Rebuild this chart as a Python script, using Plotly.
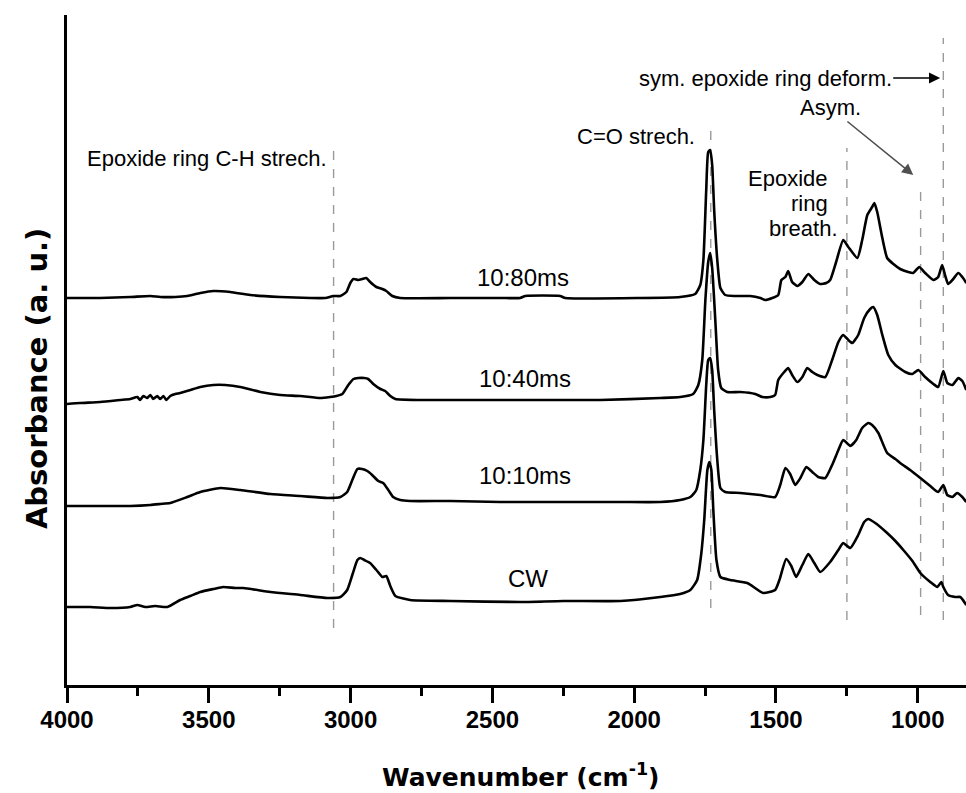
import plotly.graph_objects as go

# ---------------- data (wavenumber cm^-1, absorbance a.u., offset traces) ----------------
wn_80 = [4000, 3883, 3777, 3706, 3671, 3618, 3576, 3530, 3484, 3424, 3354, 3248, 3142, 3089, 3061, 3036,
         3015, 3001, 2990, 2973, 2959, 2945, 2931, 2909, 2888, 2874, 2853, 2825, 2648, 2472, 2402, 2384,
         2261, 2243, 1979, 1838, 1785, 1767, 1756, 1746, 1739, 1732, 1725, 1718, 1707, 1696, 1679, 1644,
         1591, 1555, 1538, 1513, 1492, 1481, 1467, 1457, 1443, 1425, 1407, 1386, 1365, 1344, 1323, 1309,
         1288, 1263, 1245, 1213, 1196, 1178, 1161, 1153, 1143, 1125, 1108, 1086, 1062, 1034, 1016, 995,
         974, 945, 928, 914, 903, 893, 878, 857, 843, 829]
ab_80 = [3.87, 3.87, 3.88, 3.89, 3.88, 3.88, 3.89, 3.92, 3.94, 3.93, 3.90, 3.88, 3.87, 3.87, 3.89, 3.89,
         3.93, 4.02, 4.06, 4.05, 4.06, 4.07, 4.03, 3.98, 3.96, 3.94, 3.89, 3.87, 3.87, 3.87, 3.87, 3.89,
         3.89, 3.87, 3.87, 3.88, 3.91, 4.00, 4.25, 4.95, 5.33, 5.35, 5.20, 4.75, 4.25, 3.97, 3.90, 3.89,
         3.89, 3.87, 3.85, 3.87, 3.90, 4.05, 4.08, 4.14, 4.03, 3.99, 4.03, 4.11, 4.05, 4.01, 4.02, 4.05,
         4.23, 4.45, 4.38, 4.27, 4.45, 4.70, 4.78, 4.82, 4.73, 4.47, 4.27, 4.21, 4.16, 4.13, 4.12, 4.18,
         4.12, 4.05, 4.08, 4.20, 4.09, 4.01, 4.05, 4.12, 4.08, 4.02]

wn_40 = [4000, 3953, 3883, 3812, 3777, 3752, 3742, 3731, 3717, 3706, 3696, 3682, 3671, 3660, 3650, 3636,
         3618, 3601, 3565, 3530, 3484, 3442, 3389, 3318, 3248, 3177, 3107, 3072, 3050, 3029, 3008, 2990,
         2973, 2952, 2938, 2920, 2895, 2878, 2860, 2842, 2754, 2472, 2261, 2120, 1908, 1838, 1792, 1774,
         1760, 1749, 1739, 1732, 1725, 1714, 1704, 1693, 1672, 1626, 1573, 1548, 1520, 1503, 1492, 1471,
         1457, 1443, 1425, 1407, 1390, 1372, 1354, 1326, 1302, 1280, 1263, 1245, 1231, 1210, 1189, 1168,
         1157, 1143, 1125, 1104, 1079, 1044, 1019, 998, 974, 945, 928, 910, 896, 878, 857, 843, 829]
ab_40 = [2.81, 2.82, 2.83, 2.85, 2.86, 2.88, 2.85, 2.89, 2.87, 2.90, 2.86, 2.89, 2.86, 2.89, 2.85, 2.89,
         2.91, 2.92, 2.95, 2.98, 3.00, 3.00, 2.98, 2.93, 2.90, 2.89, 2.87, 2.88, 2.89, 2.91, 3.00, 3.06,
         3.07, 3.07, 3.06, 3.01, 2.96, 2.94, 2.89, 2.86, 2.85, 2.85, 2.85, 2.85, 2.87, 2.88, 2.91, 3.00,
         3.25, 3.85, 4.23, 4.32, 4.17, 3.65, 3.15, 2.97, 2.93, 2.93, 2.91, 2.88, 2.88, 2.90, 3.05, 3.13,
         3.17, 3.10, 3.03, 3.08, 3.17, 3.13, 3.10, 3.08, 3.25, 3.43, 3.50, 3.45, 3.42, 3.50, 3.67, 3.76,
         3.78, 3.70, 3.50, 3.30, 3.20, 3.13, 3.11, 3.15, 3.08, 3.01, 2.98, 3.14, 3.02, 3.00, 3.07, 3.04, 2.95]

wn_10 = [4000, 3883, 3777, 3706, 3671, 3636, 3576, 3530, 3459, 3389, 3283, 3177, 3082, 3036, 3012, 2994,
         2976, 2959, 2941, 2924, 2902, 2885, 2867, 2850, 2825, 2790, 2648, 2472, 2261, 2049, 1908, 1838,
         1802, 1781, 1767, 1756, 1746, 1739, 1732, 1725, 1718, 1707, 1696, 1679, 1626, 1555, 1503, 1485,
         1467, 1450, 1432, 1414, 1393, 1372, 1351, 1326, 1302, 1280, 1263, 1238, 1217, 1196, 1175, 1161,
         1139, 1108, 1079, 1062, 1027, 991, 956, 928, 910, 896, 878, 861, 843, 829]
ab_10 = [1.79, 1.79, 1.79, 1.80, 1.81, 1.82, 1.88, 1.93, 1.97, 1.95, 1.91, 1.89, 1.87, 1.88, 1.93, 2.05,
         2.16, 2.16, 2.14, 2.10, 2.04, 2.02, 1.95, 1.88, 1.85, 1.84, 1.84, 1.83, 1.83, 1.83, 1.83, 1.85,
         1.88, 1.95, 2.15, 2.45, 3.00, 3.25, 3.27, 3.15, 2.75, 2.25, 1.97, 1.93, 1.92, 1.90, 1.88, 2.00,
         2.17, 2.11, 2.00, 2.07, 2.18, 2.13, 2.08, 2.07, 2.20, 2.35, 2.45, 2.39, 2.45, 2.57, 2.62, 2.60,
         2.52, 2.32, 2.26, 2.22, 2.15, 2.07, 1.99, 1.93, 2.00, 1.90, 1.88, 1.92, 1.88, 1.83]

wn_cw = [4000, 3918, 3847, 3777, 3752, 3724, 3689, 3646, 3601, 3565, 3530, 3484, 3449, 3407, 3378, 3283,
         3177, 3082, 3036, 3012, 2994, 2976, 2966, 2952, 2931, 2909, 2888, 2874, 2860, 2842, 2790, 2648,
         2402, 2250, 2049, 1908, 1838, 1802, 1778, 1764, 1753, 1742, 1735, 1728, 1721, 1710, 1696, 1661,
         1601, 1545, 1503, 1488, 1464, 1446, 1429, 1407, 1386, 1365, 1344, 1309, 1280, 1263, 1238, 1210,
         1189, 1175, 1150, 1108, 1079, 1051, 1019, 991, 956, 931, 917, 910, 893, 868, 850, 829]
ab_cw = [0.78, 0.78, 0.77, 0.78, 0.80, 0.78, 0.79, 0.78, 0.85, 0.89, 0.93, 0.96, 0.98, 0.97, 0.97, 0.93,
         0.90, 0.87, 0.88, 0.95, 1.10, 1.25, 1.27, 1.25, 1.22, 1.15, 1.08, 1.09, 0.99, 0.89, 0.85, 0.84,
         0.83, 0.84, 0.84, 0.88, 0.91, 0.95, 1.05, 1.30, 1.65, 2.15, 2.23, 2.15, 1.75, 1.25, 1.08, 1.05,
         1.02, 0.92, 0.95, 1.05, 1.26, 1.19, 1.08, 1.20, 1.31, 1.22, 1.13, 1.23, 1.35, 1.42, 1.37, 1.50,
         1.63, 1.66, 1.62, 1.52, 1.44, 1.35, 1.24, 1.12, 1.03, 0.98, 1.03, 0.98, 0.90, 0.88, 0.88, 0.80]

series_names = ["10:80ms", "10:40ms", "10:10ms", "CW"]
series_wn = [wn_80, wn_40, wn_10, wn_cw]
series_ab = [ab_80, ab_40, ab_10, ab_cw]
label_wn = [2391, 2384, 2384, 2374]
label_ab = [4.08, 3.07, 2.10, 1.07]

band_wn = [3060, 1730, 1250, 990, 910]
band_top = [5.37, 5.60, 5.37, 4.98, 6.47]
band_bottom = [0.57, 0.77, 0.65, 0.70, 0.65]

tick_vals = [4000, 3500, 3000, 2500, 2000, 1500, 1000]
tick_text = ["4000", "3500", "3000", "2500", "2000", "1500", "1000"]
minor_vals = [3750, 3250, 2750, 2250, 1750, 1250]

# ---------------- figure ----------------
fig = go.Figure()
for name, x, y in zip(series_names, series_wn, series_ab):
    fig.add_trace(go.Scatter(x=x, y=y, mode="lines", name=name,
                             line=dict(color="black", width=2.6, shape="spline", smoothing=0.5),
                             showlegend=False))

for xb, yt, yb in zip(band_wn, band_top, band_bottom):
    fig.add_shape(type="line", x0=xb, x1=xb, y0=yb, y1=yt, xref="x", yref="y",
                  line=dict(color="#9a9a9a", width=1.4, dash="dash"), layer="below")

ann_font = dict(family="Liberation Sans, Arial", size=22, color="black")
lab_font = dict(family="Liberation Sans, Arial", size=24, color="black")

for name, x, y in zip(series_names, label_wn, label_ab):
    fig.add_annotation(x=x, y=y, text=name, showarrow=False, font=lab_font,
                       xanchor="center", yanchor="middle")

texts = [
    ("Epoxide ring C-H strech.", 3935, 5.265, "left"),
    ("C=O strech.", 1778, 5.49, "right"),
    ("Epoxide", 1309, 5.065, "right"),
    ("ring", 1309, 4.815, "right"),
    ("breath.", 1273, 4.565, "right"),
]
for t, x, y, anc in texts:
    fig.add_annotation(x=x, y=y, text=t, showarrow=False, font=ann_font,
                       xanchor=anc, yanchor="middle")

# labels with arrows: text sits at (ax, ay), arrow head at (x, y)
fig.add_annotation(x=921, y=6.07, ax=1538, ay=6.07, xref="x", yref="y", axref="x", ayref="y",
                   text="sym. epoxide ring deform.", font=ann_font,
                   showarrow=True, arrowhead=2, arrowsize=1.4, arrowwidth=1.6,
                   arrowcolor="black")
fig.add_annotation(x=1016, y=5.10, ax=1309, ay=5.775, xref="x", yref="y", axref="x", ayref="y",
                   text="Asym.", font=ann_font,
                   showarrow=True, arrowhead=2, arrowsize=1.4, arrowwidth=1.6,
                   arrowcolor="#505050")

# axis titles
fig.add_annotation(x=0.505, y=-0.1358, xref="paper", yref="paper",
                   text="Wavenumber (cm<sup>-1</sup>)", showarrow=False,
                   font=dict(family="DejaVu Sans", size=25, color="black", weight="bold"),
                   xanchor="center", yanchor="middle")
fig.add_annotation(x=-0.0334, y=0.458, xref="paper", yref="paper",
                   text="Absorbance (a. u.)", textangle=-90, showarrow=False,
                   font=dict(family="DejaVu Sans", size=29, color="black", weight="bold"),
                   xanchor="center", yanchor="middle")

fig.update_layout(
    width=966, height=793,
    margin=dict(l=67, r=0, t=15, b=108),
    paper_bgcolor="white", plot_bgcolor="white",
    xaxis=dict(range=[4000, 830], showgrid=False, zeroline=False,
               showline=True, linecolor="black", linewidth=3,
               ticks="outside", ticklen=15, tickwidth=2.5, tickcolor="black",
               tickvals=tick_vals, ticktext=tick_text, ticklabelstandoff=-4,
               tickfont=dict(family="Liberation Sans, Arial", size=24, color="black", weight="bold"),
               minor=dict(tickvals=minor_vals, ticks="outside",
                          ticklen=8, tickwidth=2.5, tickcolor="black")),
    yaxis=dict(range=[0, 6.7], showgrid=False, zeroline=False,
               showline=True, linecolor="black", linewidth=3,
               ticks="", showticklabels=False),
)

fig.write_html("out.html")
